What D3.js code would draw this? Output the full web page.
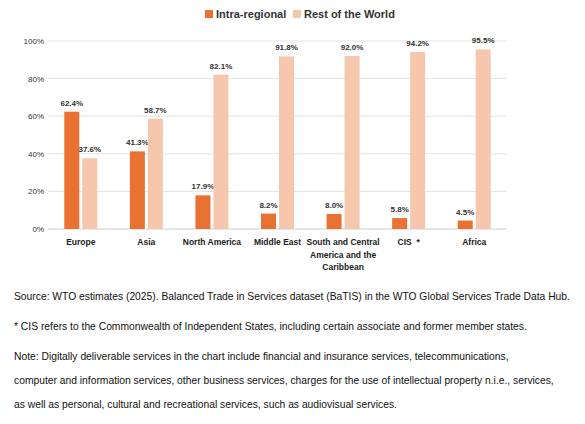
<!DOCTYPE html>
<html><head><meta charset="utf-8">
<script src="https://cdn.jsdelivr.net/npm/d3@7"></script>
<style>body{margin:0;background:#fff;font-family:"Liberation Sans",Arial,sans-serif}</style>
</head><body><svg id="c" width="585" height="424"></svg>
<script>
const categories=["Europe","Asia","North America","Middle East","South and Central|America and the|Caribbean","CIS  *","Africa"];
const intra=[62.4,41.3,17.9,8.2,8.0,5.8,4.5];
const rest=[37.6,58.7,82.1,91.8,92.0,94.2,95.5];
const yTicks=[0,20,40,60,80,100];
const series=[{name:"Intra-regional",values:intra,color:"#E97132"},{name:"Rest of the World",values:rest,color:"#F6C6AD"}];
const notes=["Source: WTO estimates (2025). Balanced Trade in Services dataset (BaTIS) in the WTO Global Services Trade Data Hub.",
"* CIS refers to the Commonwealth of Independent States, including certain associate and former member states.",
"Note: Digitally deliverable services in the chart include financial and insurance services, telecommunications,",
"computer and information services, other business services, charges for the use of intellectual property n.i.e., services,",
"as well as personal, cultural and recreational services, such as audiovisual services."];
const svg=d3.select("#c");
const x=d3.scaleBand().domain(categories).range([48,507]);
const y=d3.scaleLinear().domain([0,100]).range([229,41]);
const g=svg.append("g");
g.selectAll(".grid").data(yTicks).join("line").attr("x1",48).attr("x2",507).attr("y1",d=>y(d)).attr("y2",d=>y(d)).attr("stroke",d=>d?"#e3e3e3":"#cfcfcf").attr("stroke-width",1);
g.selectAll(".yt").data(yTicks).join("text").attr("x",44).attr("y",d=>y(d)+3).attr("text-anchor","end").attr("font-size",8).attr("fill","#333").text(d=>d+"%");
const bw=15,gap=3;
series.forEach((s,si)=>{
  const off=si===0?-bw-gap/2:gap/2;
  g.selectAll(".b"+si).data(categories).join("rect").attr("x",c=>x(c)+x.bandwidth()/2+off).attr("width",bw)
   .attr("y",(c,i)=>y(s.values[i])).attr("height",(c,i)=>y(0)-y(s.values[i])).attr("fill",s.color);
  g.selectAll(".l"+si).data(categories).join("text").attr("x",c=>x(c)+x.bandwidth()/2+off+bw/2).attr("y",(c,i)=>y(s.values[i])-6)
   .attr("text-anchor","middle").attr("font-size",8).attr("font-weight","bold").attr("fill","#333").text((c,i)=>s.values[i].toFixed(1)+"%");
});
categories.forEach(c=>{
  const t=g.append("text").attr("x",x(c)+x.bandwidth()/2).attr("y",245).attr("text-anchor","middle").attr("font-size",8.5).attr("font-weight","bold").attr("fill","#222").style("white-space","pre");
  c.split("|").forEach((ln,i)=>t.append("tspan").attr("x",x(c)+x.bandwidth()/2).attr("dy",i?12.5:0).text(ln));
});
const lg=svg.append("g");
[[205,0],[293,1]].forEach(([lx,i])=>{
  lg.append("rect").attr("x",lx).attr("y",10).attr("width",8).attr("height",8).attr("fill",series[i].color);
  lg.append("text").attr("x",lx+11).attr("y",18).attr("font-size",11).attr("font-weight","bold").attr("fill","#333").text(series[i].name);
});
const ny=[300,330,360,384,408];
notes.forEach((n,i)=>svg.append("text").attr("x",14).attr("y",ny[i]).attr("font-size",10.3).attr("fill","#111").text(n));
</script></body></html>
